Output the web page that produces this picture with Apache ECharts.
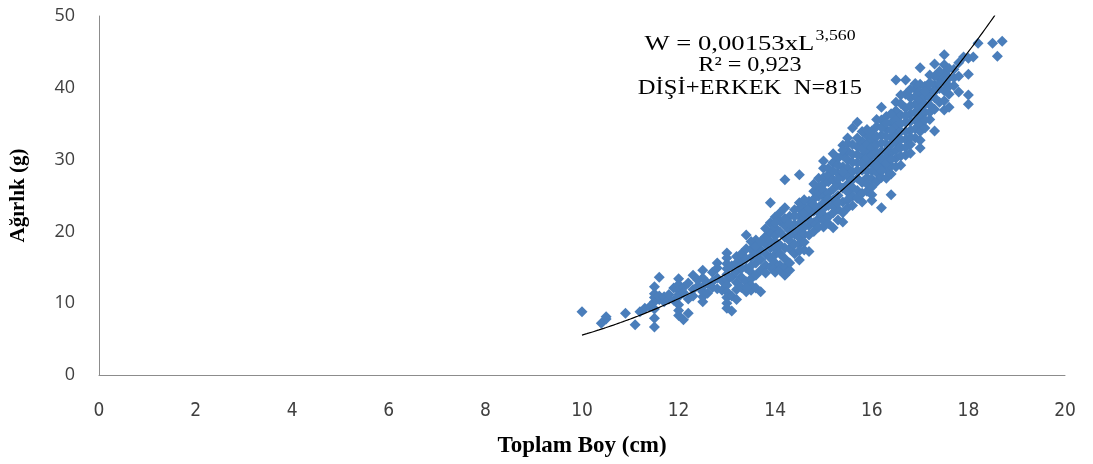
<!DOCTYPE html>
<html>
<head>
<meta charset="utf-8">
<script src="https://cdn.jsdelivr.net/npm/echarts@6/dist/echarts.min.js"></script>
<style>
  html, body { margin: 0; padding: 0; background: #fff; }
  #chart { width: 1093px; height: 464px; }
</style>
</head>
<body>
<div id="chart"></div>
<script>
// Length (cm) / weight (g) samples, grouped by length class
const samplesUnder12 = [
  [10.0,8.8],[10.4,7.2],[10.5,7.8],[10.5,8.1],[10.9,8.6],[11.1,7.0],[11.2,8.8],[11.3,9.3],
  [11.4,9.5],[11.5,6.7],[11.5,7.9],[11.5,9.2],[11.5,10.2],[11.5,10.8],[11.5,11.3],[11.5,12.3],
  [11.6,13.6],[11.6,10.5],[11.6,11.0],[11.7,10.2],[11.7,10.9],[11.8,10.6],[11.8,11.2],[11.9,12.1],
  [11.9,10.4]
];
const samples12to13 = [
  [12.0,13.4],[12.0,12.6],[12.0,11.8],[12.0,11.2],[12.0,10.9],[12.0,9.8],[12.0,9.0],[12.0,8.3],
  [12.1,7.7],[12.1,12.2],[12.1,11.5],[12.2,8.6],[12.2,10.6],[12.2,12.8],[12.3,13.9],[12.3,11.9],
  [12.3,11.0],[12.4,12.4],[12.4,13.2],[12.5,14.6],[12.5,10.9],[12.5,11.6],[12.5,12.3],[12.5,13.5],
  [12.5,10.2],[12.6,12.8],[12.6,11.4],[12.7,14.3],[12.7,13.0],[12.7,12.2],[12.8,13.5],[12.8,12.0],
  [12.8,15.6],[12.9,13.1],[12.9,11.8],[12.8,14.9]
];
const samples13to14 = [
  [13.0,17.0],[13.0,16.3],[13.0,15.5],[13.0,14.8],[13.0,14.0],[13.0,13.2],[13.0,12.5],[13.0,11.6],
  [13.0,10.8],[13.0,10.0],[13.0,9.3],[13.1,8.9],[13.1,15.2],[13.1,13.7],[13.2,16.5],[13.2,14.4],
  [13.2,12.9],[13.2,11.9],[13.3,15.8],[13.3,13.6],[13.3,12.2],[13.3,16.9],[13.4,19.5],[13.4,14.9],
  [13.4,13.0],[13.4,11.6],[13.4,17.6],[13.5,18.6],[13.5,17.5],[13.5,16.4],[13.5,15.2],[13.5,14.3],
  [13.5,13.4],[13.5,12.5],[13.5,11.8],[13.6,18.8],[13.6,16.8],[13.6,15.6],[13.6,13.9],[13.6,12.1],
  [13.7,17.4],[13.7,16.1],[13.7,14.6],[13.7,11.6],[13.8,18.2],[13.8,16.9],[13.8,15.3],[13.8,19.3],
  [13.9,24.0],[13.9,17.7],[13.9,16.3],[13.9,19.8],[13.9,21.2],
  [13.1,11.0],[13.2,15.6],[13.3,14.8],[13.4,16.2],[13.6,17.9],[13.7,18.6],[13.8,14.2],[13.9,15.0],
  [13.8,20.4],[13.9,18.6],[13.2,10.5],[13.4,12.2]
];
const samples14to15 = [
  [14.0,22.0],[14.0,20.5],[14.0,19.4],[14.0,18.6],[14.0,17.6],[14.0,16.8],[14.0,15.6],[14.0,14.9],
  [14.0,14.3],[14.1,15.3],[14.1,14.6],[14.1,18.1],[14.1,19.9],[14.1,21.4],[14.2,27.2],[14.2,23.3],
  [14.2,13.9],[14.2,15.0],[14.2,16.2],[14.2,19.2],[14.2,20.8],[14.3,14.6],[14.3,17.6],[14.3,18.7],
  [14.3,20.1],[14.3,22.1],[14.4,16.9],[14.4,19.6],[14.4,21.0],[14.4,23.0],[14.5,27.9],[14.5,23.2],
  [14.5,22.1],[14.5,21.1],[14.5,20.1],[14.5,19.1],[14.5,18.2],[14.5,17.3],[14.5,16.0],[14.6,17.4],
  [14.6,19.6],[14.6,21.7],[14.6,23.4],[14.7,19.5],[14.7,20.8],[14.7,22.4],[14.7,24.2],[14.7,17.2],
  [14.8,21.2],[14.8,22.8],[14.8,24.5],[14.8,20.0],[14.8,25.6],[14.9,21.8],[14.9,23.3],[14.9,24.9],
  [14.9,26.2],[14.9,20.6],
  [14.0,21.2],[14.1,16.9],[14.1,22.6],[14.2,17.7],[14.2,21.8],[14.3,15.6],[14.3,19.4],[14.3,21.1],
  [14.4,18.2],[14.4,22.1],[14.4,20.3],[14.5,24.0],[14.6,18.5],[14.6,20.6],[14.6,22.6],[14.7,21.6],
  [14.7,23.3],[14.8,23.7],[14.8,26.6],[14.9,22.6],[14.9,25.5],[14.9,27.4],[14.6,24.4]
];
const samples15to16 = [
  [15.0,28.8],[15.0,27.5],[15.0,26.6],[15.0,25.7],[15.0,24.9],[15.0,24.0],[15.0,23.2],[15.0,22.3],
  [15.0,21.5],[15.0,20.6],[15.1,25.3],[15.1,23.6],[15.1,22.0],[15.1,26.9],[15.1,27.9],[15.2,20.5],
  [15.2,22.6],[15.2,24.4],[15.2,25.9],[15.2,27.2],[15.2,29.6],[15.3,23.1],[15.3,25.0],[15.3,26.5],
  [15.3,28.1],[15.3,30.2],[15.3,21.6],[15.4,32.0],[15.4,21.3],[15.4,24.1],[15.4,26.0],[15.4,27.6],
  [15.4,29.0],[15.4,30.6],[15.5,33.0],[15.5,31.2],[15.5,29.9],[15.5,28.8],[15.5,27.7],[15.5,26.6],
  [15.5,25.5],[15.5,24.4],[15.5,23.3],[15.6,34.4],[15.6,28.3],[15.6,26.1],[15.6,30.7],[15.6,24.9],
  [15.7,35.2],[15.7,31.8],[15.7,29.6],[15.7,27.4],[15.7,25.7],[15.8,24.1],[15.8,28.5],[15.8,30.4],
  [15.8,32.5],[15.8,26.8],[15.9,29.3],[15.9,31.1],[15.9,33.3],[15.9,27.5],[15.9,25.6],
  [15.0,29.8],[15.1,24.5],[15.1,28.8],[15.1,21.1],[15.2,23.5],[15.2,28.4],[15.2,30.8],[15.3,24.0],
  [15.3,29.2],[15.3,27.3],[15.4,22.6],[15.4,28.3],[15.4,31.3],[15.5,32.2],[15.6,27.2],[15.6,29.6],
  [15.6,32.1],[15.6,23.6],[15.7,28.5],[15.7,30.7],[15.7,33.0],[15.7,24.6],[15.8,29.5],[15.8,31.5],
  [15.8,33.9],[15.8,25.3],[15.9,30.2],[15.9,32.2],[15.9,34.2],[15.9,28.4],[15.9,26.6]
];
const samples16to17 = [
  [16.0,34.0],[16.0,32.8],[16.0,31.7],[16.0,30.6],[16.0,29.5],[16.0,28.4],[16.0,27.3],[16.0,26.2],
  [16.0,25.1],[16.0,24.3],[16.1,30.0],[16.1,32.1],[16.1,28.2],[16.1,34.6],[16.1,26.9],[16.2,37.3],
  [16.2,23.3],[16.2,35.5],[16.2,33.4],[16.2,31.2],[16.2,29.3],[16.2,27.5],[16.3,34.2],[16.3,32.2],
  [16.3,30.4],[16.3,28.6],[16.3,36.0],[16.4,25.1],[16.4,35.1],[16.4,33.1],[16.4,31.0],[16.4,29.1],
  [16.5,41.1],[16.5,38.0],[16.5,36.8],[16.5,35.7],[16.5,34.6],[16.5,33.5],[16.5,32.4],[16.5,31.3],
  [16.5,30.2],[16.5,29.0],[16.6,29.2],[16.6,33.9],[16.6,36.2],[16.6,31.7],[16.6,37.8],[16.7,41.1],
  [16.7,39.1],[16.7,35.2],[16.7,32.8],[16.7,30.6],[16.7,37.2],[16.8,36.4],[16.8,34.1],[16.8,38.6],
  [16.8,32.1],[16.9,33.0],[16.9,35.5],[16.9,37.7],[16.9,39.8],[16.9,40.6],
  [16.0,33.3],[16.1,31.0],[16.1,33.2],[16.1,29.1],[16.1,35.6],[16.2,30.2],[16.2,32.3],[16.2,34.5],
  [16.2,28.4],[16.3,29.5],[16.3,31.3],[16.3,33.2],[16.3,35.1],[16.3,27.4],[16.4,30.0],[16.4,32.1],
  [16.4,34.1],[16.4,36.4],[16.4,28.0],[16.6,30.5],[16.6,35.0],[16.6,32.8],[16.6,39.0],[16.7,33.9],
  [16.7,36.1],[16.7,31.7],[16.8,33.1],[16.8,35.3],[16.8,37.5],[16.8,39.8],[16.9,36.6],[16.9,38.8],
  [16.9,34.3],[16.8,30.9]
];
const samplesOver17 = [
  [17.0,42.8],[17.0,40.5],[17.0,39.4],[17.0,38.3],[17.0,37.2],[17.0,36.1],[17.0,35.0],[17.0,33.9],
  [17.0,32.7],[17.0,31.6],[17.1,38.8],[17.1,36.6],[17.1,40.2],[17.1,34.4],[17.2,41.8],[17.2,39.6],
  [17.2,37.6],[17.2,35.6],[17.3,43.3],[17.3,34.0],[17.3,38.6],[17.3,40.4],[17.4,38.0],[17.4,39.9],
  [17.4,41.3],[17.5,44.6],[17.5,43.2],[17.5,42.0],[17.5,40.8],[17.5,39.6],[17.5,36.9],[17.6,37.3],
  [17.6,41.4],[17.6,39.1],[17.7,42.6],[17.7,40.3],[17.8,39.4],[17.8,43.5],[17.9,44.3],[18.0,44.1],
  [18.0,41.9],[18.0,39.0],[18.0,37.7],[18.1,44.3],[18.2,46.2],[18.5,46.2],[18.6,44.4],[18.7,46.5],
  [17.1,35.5],[17.1,37.7],[17.1,39.5],[17.2,38.6],[17.2,40.7],[17.2,36.6],[17.3,37.0],[17.3,39.5],
  [17.3,41.6],[17.4,40.6],[17.4,42.3],[17.5,38.2],[17.6,42.7],[17.6,40.2],[17.7,41.4],[17.8,41.6]
];

// Power-law fit W = a * L^b, coefficients as printed on the chart
const fitA = 0.00153;
const fitB = 3.560;
const fitStartL = 10.0;
const fitEndL = 18.55;

const xTicks = { min: 0, max: 20, interval: 2 };
const yTicks = { min: 0, max: 50, interval: 10 };

const equationLines = ['W = 0,00153xL', '3,560', 'R² = 0,923', 'DİŞİ+ERKEK  N=815'];
const xTitle = 'Toplam Boy (cm)';
const yTitle = 'Ağırlık (g)';

const samples = [].concat(samplesUnder12, samples12to13, samples13to14,
  samples14to15, samples15to16, samples16to17, samplesOver17);

const fitCurve = [];
for (let i = 0; ; i++) {
  let L = fitStartL + i * 0.05;
  if (L > fitEndL) L = fitEndL;
  fitCurve.push([L, fitA * Math.pow(L, fitB)]);
  if (L >= fitEndL) break;
}

const chart = echarts.init(document.getElementById('chart'), null, { renderer: 'canvas' });
const serif = "'Liberation Serif', 'Times New Roman', serif";

// equation block: text drawn slightly widened, centred on x = 750
function eqText(y, sx, style) {
  return {
    type: 'text', x: 750, y: y, scaleX: sx, z: 10,
    style: Object.assign({ x: 0, y: 0, align: 'center', verticalAlign: 'middle',
      fontFamily: serif, fontSize: 21, fill: '#000' }, style)
  };
}

chart.setOption({
  animation: false,
  backgroundColor: '#ffffff',
  grid: { left: 97, right: 28, top: 16, bottom: 89 },
  xAxis: {
    type: 'value',
    min: xTicks.min, max: xTicks.max, interval: xTicks.interval,
    splitLine: { show: false },
    axisTick: { show: false },
    axisLine: { show: true, lineStyle: { color: '#8c8c8c', width: 1 } },
    axisLabel: {
      margin: 27, color: '#404040', fontSize: 19,
      fontFamily: "'Liberation Sans Narrow', 'DejaVu Sans Condensed', sans-serif"
    },
    name: xTitle, nameLocation: 'middle', nameGap: 60,
    nameTextStyle: { fontFamily: serif, fontWeight: 'bold', fontSize: 23, color: '#000' }
  },
  yAxis: {
    type: 'value',
    min: yTicks.min, max: yTicks.max, interval: yTicks.interval,
    splitLine: { show: false },
    axisTick: { show: false },
    axisLine: { show: true, lineStyle: { color: '#8c8c8c', width: 1 } },
    axisLabel: {
      margin: 24, color: '#404040', fontSize: 18,
      fontFamily: "'Open Sans', 'Noto Sans', sans-serif"
    },
    name: yTitle, nameLocation: 'middle', nameGap: 70, nameRotate: 90,
    nameTextStyle: { fontFamily: serif, fontWeight: 'bold', fontSize: 21, color: '#000' }
  },
  series: [
    {
      type: 'scatter',
      data: samples,
      symbol: 'diamond',
      symbolSize: 11,
      itemStyle: { color: '#4a7ebb', opacity: 1 },
      z: 2
    },
    {
      type: 'line',
      data: fitCurve,
      showSymbol: false,
      smooth: false,
      lineStyle: { color: '#000000', width: 1.2 },
      z: 3
    }
  ],
  graphic: [
    eqText(42, 1.27, {
      text: '{m|' + equationLines[0] + '}{s|' + equationLines[1] + '}',
      rich: {
        m: { fontFamily: serif, fontSize: 21, color: '#000', lineHeight: 26, verticalAlign: 'bottom' },
        s: { fontFamily: serif, fontSize: 14, color: '#000', lineHeight: 26, verticalAlign: 'top', padding: [0, 0, 10, 1] }
      }
    }),
    eqText(65, 1.15, { text: equationLines[2] }),
    eqText(88, 1.17, { text: equationLines[3] })
  ]
});
</script>
</body>
</html>
